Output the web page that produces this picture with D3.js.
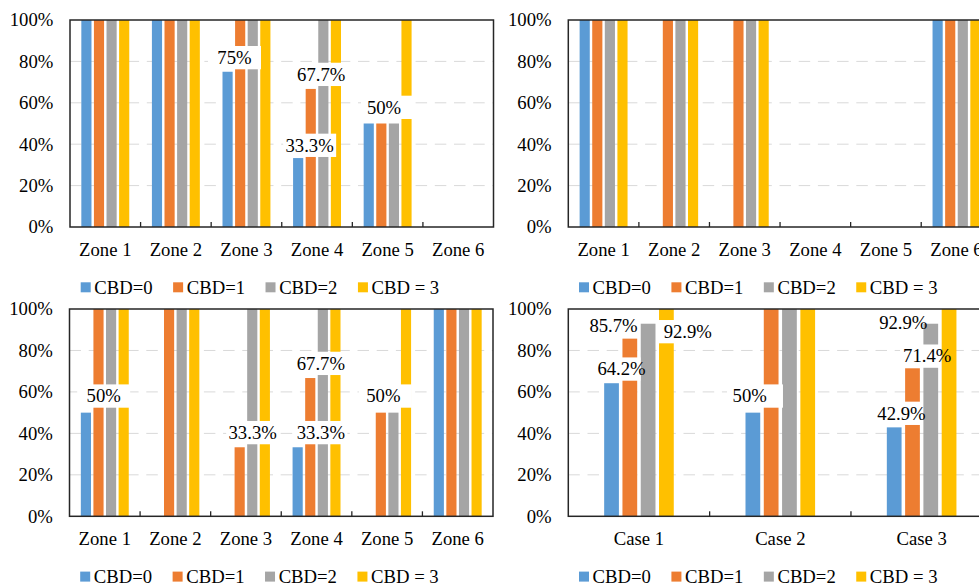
<!DOCTYPE html>
<html><head><meta charset="utf-8">
<script src="https://cdn.jsdelivr.net/npm/d3@7"></script>
<style>
html,body{margin:0;padding:0;background:#fff;overflow:hidden;}
svg{display:block;overflow:hidden;}
</style></head><body>
<svg id="chart" width="979" height="584"></svg>
<script>
// ---------- data ----------
const zones = ["Zone 1", "Zone 2", "Zone 3", "Zone 4", "Zone 5", "Zone 6"];
const cases = ["Case 1", "Case 2", "Case 3"];
const seriesNames = ["CBD=0", "CBD=1", "CBD=2", "CBD = 3"];
const yTicks = [0, 0.2, 0.4, 0.6, 0.8, 1];
const gridTicks = [0.2, 0.4, 0.6, 0.8];

// panel A (top-left)
const cbd0A = [1, 1, 0.75, 0.333, 0.5, 0];
const cbd1A = [1, 1, 1, 0.667, 0.5, 0];
const cbd2A = [1, 1, 1, 1, 0.5, 0];
const cbd3A = [1, 1, 1, 1, 1, 0];
// panel B (top-right)
const cbd0B = [1, 0, 0, 0, 0, 1];
const cbd1B = [1, 1, 1, 0, 0, 1];
const cbd2B = [1, 1, 1, 0, 0, 1];
const cbd3B = [1, 1, 1, 0, 0, 1];
// panel C (bottom-left)
const cbd0C = [0.5, 0, 0, 0.333, 0, 1];
const cbd1C = [1, 1, 0.333, 0.667, 0.5, 1];
const cbd2C = [1, 1, 1, 1, 0.5, 1];
const cbd3C = [1, 1, 1, 1, 1, 1];
// panel D (bottom-right)
const cbd0D = [0.642, 0.5, 0.429];
const cbd1D = [0.857, 1, 0.714];
const cbd2D = [0.929, 1, 0.929];
const cbd3D = [1, 1, 1];

// data labels: anchored to a bar (category, series index)
const labelsA = [
  {cat: "Zone 3", s: 0, text: "75%"},
  {cat: "Zone 4", s: 1, text: "67.7%"},
  {cat: "Zone 4", s: 0, text: "33.3%"},
  {cat: "Zone 5", s: 0, text: "50%"}
];
const labelsB = [];
const labelsC = [
  {cat: "Zone 1", s: 0, text: "50%"},
  {cat: "Zone 3", s: 1, text: "33.3%"},
  {cat: "Zone 4", s: 0, text: "33.3%"},
  {cat: "Zone 4", s: 1, text: "67.7%"},
  {cat: "Zone 5", s: 1, text: "50%"}
];
const labelsD = [
  {cat: "Case 1", s: 1, text: "85.7%"},
  {cat: "Case 1", s: 2, text: "92.9%"},
  {cat: "Case 1", s: 0, text: "64.2%"},
  {cat: "Case 2", s: 0, text: "50%"},
  {cat: "Case 3", s: 0, text: "42.9%"},
  {cat: "Case 3", s: 1, text: "71.4%"},
  {cat: "Case 3", s: 2, text: "92.9%"}
];

// ---------- layout (positions / sizes / styles) ----------
// label layout: [text dx from bar centre, box-bottom offset from bar top, box width, box dx from text centre]
const layoutA = [[6.9, -2.45, 53, 0], [10.5, -2.9, 53, 0], [11.5, -1.1, 53, 0], [15.3, -4.5, 51, 2.5]];
const layoutB = [];
const layoutC = [[17.8, -4.95, 53, 0], [13, -3, 53, 0], [23.2, -3, 53, 0], [10.6, -3, 53, 0], [2.5, -4.95, 53, 2]];
const layoutD = [[-16.3, -1.2, 53, 0], [39.7, 19.6, 57, -0.5], [10, -2.5, 47, -4.5], [-3.2, -4.95, 56, 5.3],
                 [7.3, -2.4, 48, -3.5], [14.7, -0.5, 41, -6.7], [-27.5, 10.3, 47, -3.8]];

const colors = ["#5B9BD5", "#ED7D31", "#A5A5A5", "#FFC000"];
const FONT = "Liberation Serif";
const FS = 18.7;
const BOXH = 23.3;

const panels = [
  {cats: zones, values: [cbd0A, cbd1A, cbd2A, cbd3A], labels: labelsA, layout: layoutA,
   box: {x0: 70, x1: 493.5, y0: 20, y1: 227}, group: 0.679},
  {cats: zones, values: [cbd0B, cbd1B, cbd2B, cbd3B], labels: labelsB, layout: layoutB,
   box: {x0: 568.3, x1: 991.8, y0: 20, y1: 227}, group: 0.679},
  {cats: zones, values: [cbd0C, cbd1C, cbd2C, cbd3C], labels: labelsC, layout: layoutC,
   box: {x0: 69.5, x1: 493, y0: 309, y1: 516.3}, group: 0.679},
  {cats: cases, values: [cbd0D, cbd1D, cbd2D, cbd3D], labels: labelsD, layout: layoutD,
   box: {x0: 568.3, x1: 992.3, y0: 309, y1: 516.3}, group: 0.4925}
];

const svg = d3.select("#chart");
svg.append("rect").attr("width", 979).attr("height", 584).attr("fill", "#fff");

function drawPanel(p) {
  const g = svg.append("g").attr("font-family", FONT);
  const b = p.box;
  const x = d3.scaleBand().domain(p.cats).range([b.x0, b.x1]).padding(0);
  const cw = x.bandwidth();
  const xs = d3.scaleBand().domain(d3.range(seriesNames.length))
    .range([cw * (1 - p.group) / 2, cw * (1 + p.group) / 2])
    .paddingInner(0.194).paddingOuter(0);
  const y = d3.scaleLinear().domain([0, 1]).range([b.y1, b.y0]);

  // gridlines
  g.selectAll("line.grid").data(gridTicks).join("line")
    .attr("class", "grid")
    .attr("x1", b.x0).attr("x2", b.x1)
    .attr("y1", d => y(d)).attr("y2", d => y(d))
    .attr("stroke", "#d9d9d9").attr("stroke-width", 1)
    .attr("stroke-dasharray", "11.5,7.7");

  // bars
  const barData = [];
  p.cats.forEach((c, i) => p.values.forEach((vals, s) => barData.push({c, s, v: vals[i]})));
  g.selectAll("rect.bar").data(barData.filter(d => d.v > 0)).join("rect")
    .attr("class", "bar")
    .attr("x", d => x(d.c) + xs(d.s))
    .attr("width", xs.bandwidth())
    .attr("y", d => y(d.v))
    .attr("height", d => y(0) - y(d.v))
    .attr("fill", d => colors[d.s]);

  // plot border
  g.append("rect")
    .attr("x", b.x0).attr("y", b.y0)
    .attr("width", b.x1 - b.x0).attr("height", b.y1 - b.y0)
    .attr("fill", "none").attr("stroke", "#262626").attr("stroke-width", 1.5);

  // inner category tick marks
  g.selectAll("line.tick").data(p.cats.slice(1)).join("line")
    .attr("class", "tick")
    .attr("x1", d => x(d)).attr("x2", d => x(d))
    .attr("y1", b.y1).attr("y2", b.y1 - 5)
    .attr("stroke", "#262626").attr("stroke-width", 1.3);

  // x axis labels
  const xa = g.append("g").attr("transform", `translate(0,${b.y1})`)
    .call(d3.axisBottom(x).tickSize(0).tickPadding(29 - 0.71 * FS));
  xa.attr("font-family", FONT).attr("font-size", FS);
  xa.select(".domain").remove();
  xa.selectAll("text").attr("fill", "#000");

  // y axis labels
  const ya = g.append("g").attr("transform", `translate(${b.x0},0)`)
    .call(d3.axisLeft(y).tickValues(yTicks).tickFormat(d3.format(".0%")).tickSize(0).tickPadding(16.7));
  ya.attr("font-family", FONT).attr("font-size", FS);
  ya.select(".domain").remove();
  ya.selectAll("text").attr("fill", "#000");

  // data labels
  const lab = g.append("g").attr("font-size", FS);
  p.labels.forEach((L, k) => {
    const [dx, bb, bw, bx] = p.layout[k];
    const si = L.s;
    const v = p.values[si][p.cats.indexOf(L.cat)];
    const ax = x(L.cat) + xs(si) + xs.bandwidth() / 2;
    const top = y(v);
    const tx = ax + dx;
    const bottom = top + bb;
    const cy = bottom - BOXH / 2;
    lab.append("rect")
      .attr("x", tx + bx - bw / 2).attr("y", bottom - BOXH)
      .attr("width", bw).attr("height", BOXH)
      .attr("fill", "#fff");
    lab.append("text")
      .attr("x", tx).attr("y", cy + 0.34 * FS)
      .attr("text-anchor", "middle")
      .attr("fill", "#000")
      .text(L.text);
  });

  // legend
  const lg = g.append("g").attr("font-size", FS);
  let lx = b.x0 + 10.7;
  const base = b.y1 + 67;
  seriesNames.forEach((name, s) => {
    lg.append("rect").attr("x", lx).attr("y", base - 11.7).attr("width", 10).attr("height", 10).attr("fill", colors[s]);
    const t = lg.append("text").attr("x", lx + 13.6).attr("y", base)
      .attr("fill", "#000").text(name);
    lx = lx + 13.6 + t.node().getComputedTextLength() + 20.5;
  });
}

panels.forEach(drawPanel);
</script>
</body></html>
